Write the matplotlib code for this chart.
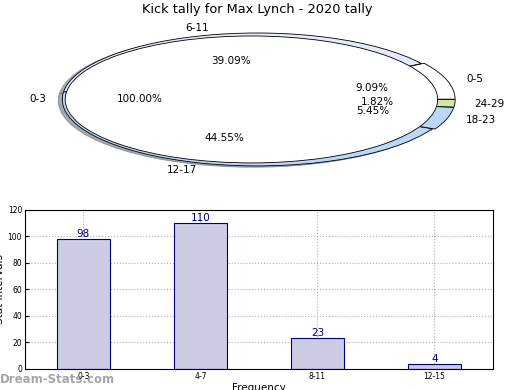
import matplotlib
matplotlib.use('Agg')
import matplotlib.pyplot as plt
import numpy as np

# pie data: inner ring (kicks 0-3) and outer ring (age brackets)
inner_labels = ['0-3']
inner_vals = [110]
outer_labels = ['0-5', '6-11', '12-17', '18-23', '24-29']
outer_vals = [10, 43, 49, 6, 2]
outer_colors = ['#ffffff', '#e4eaff', '#bcd8f8', '#bcd8f8', '#d0e8a0']
outer_explode = [0.015, 0, 0, 0.015, 0.015]

# bar data
bar_cats = ['0-3', '4-7', '8-11', '12-15']
bar_vals = [98, 110, 23, 4]

fig = plt.figure(figsize=(5.2, 3.9), dpi=100)

# top: pie, squashed into an ellipse
ax1 = fig.add_axes([0.026, 0.532, 0.9375, 0.426])
ax1.pie(outer_vals, labels=outer_labels, colors=outer_colors, radius=1.0,
        autopct='%.2f%%', pctdistance=0.6, labeldistance=1.1,
        explode=outer_explode,
        shadow={'ox': -0.015, 'oy': -0.015, 'shade': 0.6},
        wedgeprops=dict(edgecolor='black', linewidth=0.6),
        textprops=dict(fontsize=7.5))
ax1.pie(inner_vals, labels=inner_labels, colors=['white'], radius=0.955,
        autopct='%.2f%%', pctdistance=0.6, labeldistance=1.1,
        explode=[0.03], shadow=False,
        wedgeprops=dict(edgecolor='black', linewidth=0.6),
        textprops=dict(fontsize=7.5))
ax1.set_aspect('auto')
ax1.set_xlim(-1.25, 1.25)
ax1.set_ylim(-1.25, 1.25)
ax1.set_title('Kick tally for Max Lynch - 2020 tally', fontsize=9.3, pad=2)

# bottom: bar chart
ax2 = fig.add_axes([0.048, 0.054, 0.9, 0.408])
x = np.arange(len(bar_cats))
ax2.bar(x, bar_vals, width=0.45, color='#ccccE4', edgecolor='#000080', linewidth=0.8, zorder=2)
for xi, v in zip(x, bar_vals):
    ax2.text(xi, v, str(v), ha='center', va='bottom', color='#000080', fontsize=7.5, zorder=3)
ax2.set_xlim(-0.5, 3.5)
ax2.set_ylim(0, 120)
ax2.set_yticks(range(0, 121, 20))
ax2.set_xticks(x)
ax2.set_xticklabels(bar_cats)
ax2.tick_params(labelsize=5.5, direction='in', length=3, pad=2)
ax2.grid(True, linestyle=':', color='#b0b0b0', linewidth=0.8, zorder=0)
ax2.set_axisbelow(True)
ax2.set_xlabel('Frequency', fontsize=7.5, labelpad=2)
ax2.set_ylabel('Stat Intervals', fontsize=7.5, labelpad=2)

fig.text(0.0, 0.01, 'Dream-Stats.com', fontsize=8.5, color='#909090', alpha=0.8,
         fontweight='bold', ha='left', va='bottom')

fig.savefig('out.png', dpi=100)
